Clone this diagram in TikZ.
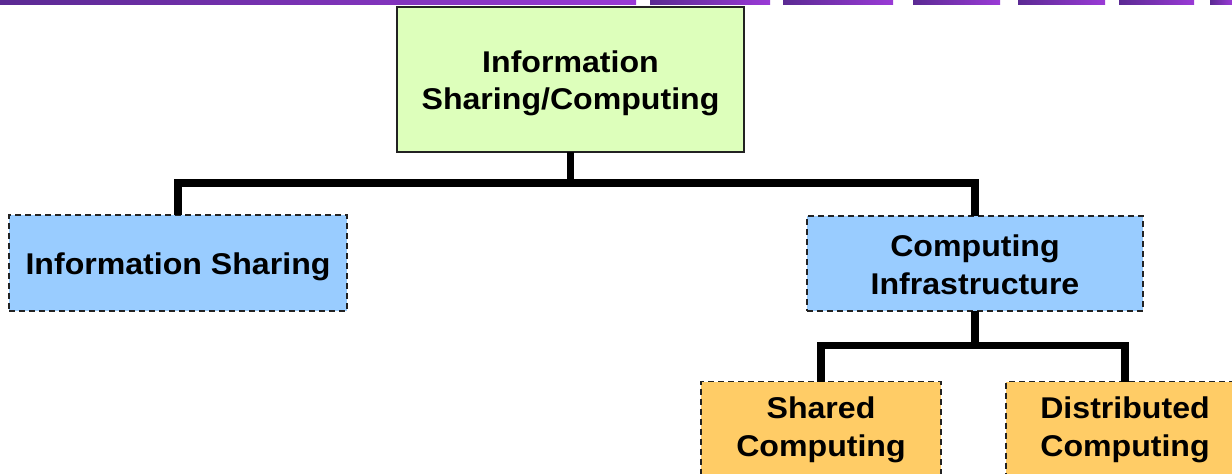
\documentclass[tikz,border=0pt]{standalone}
\usepackage{fontspec}
\setmainfont{Liberation Sans}[FakeStretch=1.07]
\definecolor{topgreen}{HTML}{DDFFBB}
\definecolor{midblue}{HTML}{99CCFF}
\definecolor{botorange}{HTML}{FFCC66}
\definecolor{purpleA}{HTML}{5B2A93}
\definecolor{purpleB}{HTML}{9A3AD6}
\definecolor{boxline}{HTML}{222222}
\tikzset{
  box/.style={draw=boxline, line width=1.5pt, inner sep=0pt, outer sep=0pt},
  dashbox/.style={box, dash pattern=on 6pt off 4pt},
  lbl/.style={inner sep=0pt, align=center, font=\bfseries\fontsize{30}{37.5}\selectfont},
  conn/.style={line width=7.5pt, line join=miter, black},
  bar/.style={left color=purpleA, right color=purpleB, draw=none}
}
\begin{document}
\begin{tikzpicture}[x=1pt,y=-1pt]
\useasboundingbox (0,0) rectangle (1232,474);
\clip (0,0) rectangle (1232,474);
% top purple bar
\foreach \a/\b in {0/636,650/770,783/893,913/1000,1018/1105,1119/1194,1210/1232}
  \fill[bar] (\a,0) rectangle (\b,4);
% boxes
\node[box, fill=topgreen, minimum width=347pt, minimum height=145pt] (top) at (570.5,79.5) {};
\node[dashbox, fill=midblue, minimum width=338pt, minimum height=96pt] (left) at (178,263) {};
\node[dashbox, fill=midblue, minimum width=336pt, minimum height=95pt] (ci) at (975,263.5) {};
\node[dashbox, fill=botorange, minimum width=240pt, minimum height=93pt] (sc) at (821,428) {};
\node[dashbox, fill=botorange, minimum width=238pt, minimum height=93pt] (dc) at (1125,428) {};
% labels
\node[lbl] (topT) at ([yshift=-4pt]top.center) {Information\\Sharing/Computing};
\node[lbl] (leftT) at ([yshift=-4pt]left.center) {Information Sharing};
\node[lbl] (ciT) at ([yshift=-1.5pt]ci.center) {Computing\\Infrastructure};
\node[lbl] (scT) at ([yshift=-2pt]sc.center) {Shared\\Computing};
\node[lbl] (dcT) at ([yshift=-2pt]dc.center) {Distributed\\Computing};
% connectors
\coordinate (j1) at (570.5,183);
\coordinate (j2) at (975,345.5);
\draw[conn] (top.south) -- (j1);
\draw[conn] (left.north) |- (j1) -| (ci.north);
\draw[conn] (ci.south) -- (j2);
\draw[conn] (sc.north) |- (j2) -| (dc.north);
\end{tikzpicture}
\end{document}
